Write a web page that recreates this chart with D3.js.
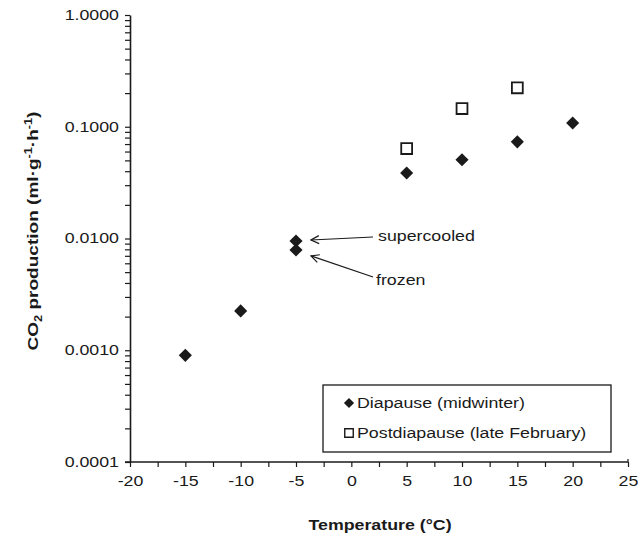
<!DOCTYPE html>
<html>
<head>
<meta charset="utf-8">
<script src="https://cdn.jsdelivr.net/npm/d3@7"></script>
<style>
  body { margin: 0; background: #fff; }
  svg { font-family: "Liberation Sans", Arial, sans-serif; }
</style>
</head>
<body>
<svg id="chart" width="638" height="537"></svg>
<script>
// data
const diapauseTemp = [-15, -10, -5, -5, 5, 10, 15, 20];
const diapauseCO2 = [0.0009, 0.00225, 0.0095, 0.0079, 0.0386, 0.0506, 0.0733, 0.108];
const postTemp = [5, 10, 15];
const postCO2 = [0.0638, 0.1455, 0.223];
const xTicks = d3.range(-20, 25.01, 2.5);
const xLabels = d3.range(-20, 25.01, 5);
const yDecades = [0.0001, 0.001, 0.01, 0.1, 1];
const legendNames = ["Diapause (midwinter)", "Postdiapause (late February)"];
const notes = [
  { label: "supercooled", temp: -5, value: 0.0095 },
  { label: "frozen", temp: -5, value: 0.0079 }
];

const svg = d3.select("#chart");
const stretch = 1.27; // text in the figure is drawn wide
const ink = "#1a1a1a";

const x = d3.scaleLinear().domain([-20, 25]).range([130, 628]);
const y = d3.scaleLog().domain([0.0001, 1]).range([462, 15]);

// y ticks: decades plus 2..9 minor ticks
const yTicks = [];
yDecades.forEach((d, i) => {
  yTicks.push(d);
  if (i < yDecades.length - 1) for (let k = 2; k <= 9; k++) yTicks.push(d * k);
});

const yAxis = svg.append("g")
  .attr("transform", `translate(${x(-20)},0)`)
  .call(d3.axisLeft(y).tickValues(yTicks).tickSize(5).tickSizeOuter(0)
    .tickFormat(d => yDecades.includes(d) ? d3.format(".4f")(d) : ""));
yAxis.select(".domain").attr("stroke", ink).attr("stroke-width", 1.6);
yAxis.selectAll(".tick line").attr("stroke", ink).attr("stroke-width", 1.2);
yAxis.selectAll(".tick text")
  .attr("x", null)
  .attr("transform", `translate(-11,0) scale(${stretch},1)`)
  .attr("font-size", 14)
  .attr("fill", ink);

const xAxis = svg.append("g")
  .attr("transform", `translate(0,${y(0.0001)})`)
  .call(d3.axisBottom(x).tickValues(xTicks).tickSize(5).tickPadding(9).tickSizeOuter(0)
    .tickFormat(d => xLabels.includes(d) ? String(d) : ""));
xAxis.select(".domain").attr("d", `M${x(-20) - 5},0H${x(25)}`)
  .attr("stroke", ink).attr("stroke-width", 1.6);
xAxis.selectAll(".tick line").attr("stroke", ink).attr("stroke-width", 1.2);
xAxis.selectAll(".tick text")
  .attr("y", null)
  .attr("transform", `translate(0,14) scale(${stretch},1)`)
  .attr("font-size", 14)
  .attr("fill", ink);
// small end tick at 25 going up
svg.append("line")
  .attr("x1", x(25)).attr("x2", x(25))
  .attr("y1", y(0.0001) - 3).attr("y2", y(0.0001))
  .attr("stroke", ink).attr("stroke-width", 1.2);

// axis titles
svg.append("text")
  .attr("transform", `translate(380,530) scale(${stretch},1)`)
  .attr("text-anchor", "middle")
  .attr("font-size", 14)
  .attr("font-weight", "bold")
  .attr("fill", ink)
  .text("Temperature (°C)");

const yTitle = svg.append("text")
  .attr("transform", `translate(38,231) rotate(-90) scale(${stretch},1)`)
  .attr("text-anchor", "middle")
  .attr("font-size", 15)
  .attr("font-weight", "bold")
  .attr("fill", ink);
yTitle.append("tspan").text("CO");
yTitle.append("tspan").attr("font-size", 10).attr("dy", 4).text("2");
yTitle.append("tspan").attr("dy", -4).text(" production (ml·g");
yTitle.append("tspan").attr("font-size", 10).attr("dy", -6).text("-1");
yTitle.append("tspan").attr("dy", 6).text("·h");
yTitle.append("tspan").attr("font-size", 10).attr("dy", -6).text("-1");
yTitle.append("tspan").attr("dy", 6).text(")");

// markers
const diamond = d3.symbol().type(d3.symbolSquare).size(86);
const square = d3.symbol().type(d3.symbolSquare).size(118);

svg.append("g").selectAll("path")
  .data(postTemp.map((t, i) => ({ t, v: postCO2[i] })))
  .join("path")
  .attr("d", square)
  .attr("transform", d => `translate(${x(d.t)},${y(d.v)})`)
  .attr("fill", "#fff")
  .attr("stroke", ink)
  .attr("stroke-width", 1.8);

svg.append("g").selectAll("path")
  .data(diapauseTemp.map((t, i) => ({ t, v: diapauseCO2[i] })))
  .join("path")
  .attr("d", diamond)
  .attr("transform", d => `translate(${x(d.t)},${y(d.v)}) rotate(45)`)
  .attr("fill", ink);

// annotations with arrows
svg.append("defs").append("marker")
  .attr("id", "arrow")
  .attr("viewBox", "-10 -5 11 10")
  .attr("refX", 0).attr("refY", 0)
  .attr("markerWidth", 11).attr("markerHeight", 10)
  .attr("markerUnits", "userSpaceOnUse")
  .attr("orient", "auto")
  .append("path")
  .attr("d", "M-8,-4L0,0L-8,4")
  .attr("fill", "none")
  .attr("stroke", ink)
  .attr("stroke-width", 1.2);

const noteStart = [[373, 237], [373, 277]];
const noteText = [[378, 241], [376, 285]];
const tipOffset = [-1, 6];
notes.forEach((n, i) => {
  svg.append("line")
    .attr("x1", noteStart[i][0]).attr("y1", noteStart[i][1])
    .attr("x2", x(n.temp) + 15).attr("y2", y(n.value) + tipOffset[i])
    .attr("stroke", ink).attr("stroke-width", 1.2)
    .attr("marker-end", "url(#arrow)");
  svg.append("text")
    .attr("transform", `translate(${noteText[i][0]},${noteText[i][1]}) scale(${stretch},1)`)
    .attr("font-size", 14)
    .attr("fill", ink)
    .text(n.label);
});

// legend
const legend = svg.append("g");
legend.append("rect")
  .attr("x", 323).attr("y", 385)
  .attr("width", 288).attr("height", 67)
  .attr("fill", "#fff")
  .attr("stroke", ink)
  .attr("stroke-width", 1.3);
const rowY = [403, 433];
legend.append("path")
  .attr("d", d3.symbol().type(d3.symbolSquare).size(52))
  .attr("transform", `translate(349,${rowY[0]}) rotate(45)`)
  .attr("fill", ink);
legend.append("path")
  .attr("d", d3.symbol().type(d3.symbolSquare).size(72))
  .attr("transform", `translate(349,${rowY[1]})`)
  .attr("fill", "#fff")
  .attr("stroke", ink)
  .attr("stroke-width", 1.4);
legendNames.forEach((name, i) => {
  legend.append("text")
    .attr("transform", `translate(357,${rowY[i] + 5}) scale(${stretch},1)`)
    .attr("font-size", 14)
    .attr("fill", ink)
    .text(name);
});
</script>
</body>
</html>
